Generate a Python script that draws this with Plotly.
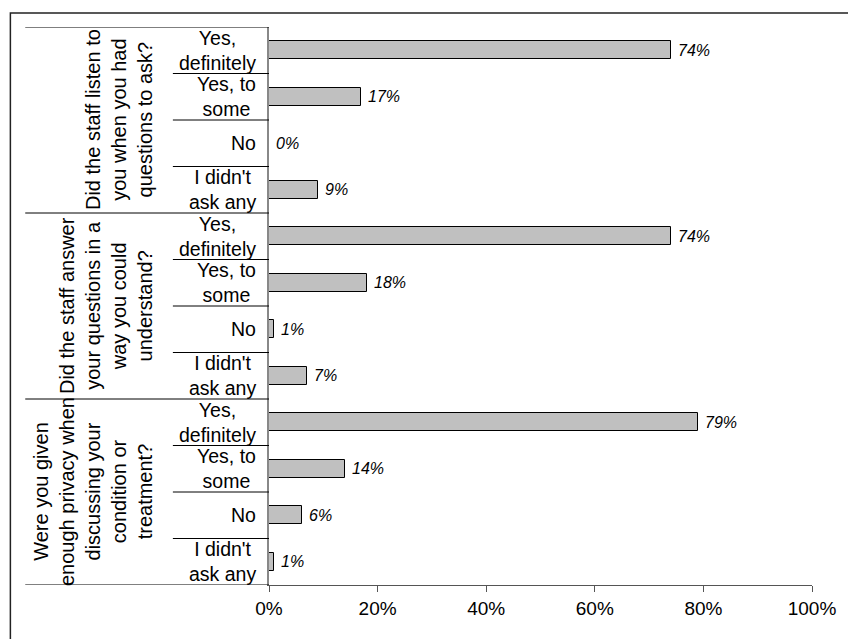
import plotly.graph_objects as go

# ---- data ----
questions = [
    "Did the staff listen to<br>you when you had<br>questions to ask?",
    "Did the staff answer<br>your questions in a<br>way you could<br>understand?",
    "Were you given<br>enough privacy when<br>discussing your<br>condition or<br>treatment?",
]
answers = ["Yes,<br>definitely", "Yes, to<br>some", "No", "I didn't<br>ask any"]
values_listen = [74, 17, 0, 9]
values_answer = [74, 18, 1, 7]
values_privacy = [79, 14, 6, 1]
x_ticks = [0, 20, 40, 60, 80, 100]
x_tick_labels = ["0%", "20%", "40%", "60%", "80%", "100%"]

all_values = [values_listen, values_answer, values_privacy]

W, H = 848, 639
L, R, T, B = 269, 31, 27, 54
pw = W - L - R
ph = H - T - B

def px_to_paper_x(px):
    return (px - L) / pw

def px_to_paper_y(py):
    return 1 - (py - T) / ph

FONT = "Liberation Sans, Arial, sans-serif"

vals = []
ypos = []
for g, vlist in enumerate(all_values):
    for i, v in enumerate(vlist):
        vals.append(v)
        ypos.append(g * len(answers) + i)

n_rows = len(ypos)

fig = go.Figure()
fig.add_trace(go.Bar(
    x=vals, y=ypos, orientation="h", width=0.39,
    marker=dict(color="#c0c0c0", line=dict(color="black", width=1)),
    hoverinfo="skip", showlegend=False,
))

annotations = []
# value labels
for v, y in zip(vals, ypos):
    annotations.append(dict(
        x=v, y=y, xref="x", yref="y", text=f"<i>{v}%</i>",
        showarrow=False, xanchor="left", yanchor="middle", xshift=5,
        font=dict(family=FONT, size=16, color="black"),
    ))
# answer labels
for g in range(len(questions)):
    for i, a in enumerate(answers):
        annotations.append(dict(
            x=px_to_paper_x(258), y=g * len(answers) + i, xref="paper", yref="y",
            text=a, showarrow=False, xanchor="right", yanchor="middle",
            align="center",
            font=dict(family=FONT, size=19.5, color="black"),
        ))
# question labels
for g, q in enumerate(questions):
    annotations.append(dict(
        x=px_to_paper_x(157), y=g * len(answers) + (len(answers) - 1) / 2,
        xref="paper", yref="y", text=q, showarrow=False, textangle=-90,
        xanchor="right", yanchor="middle", align="center",
        font=dict(family=FONT, size=20, color="black"),
    ))

shapes = []
for k in range(n_rows + 1):
    long_line = (k % len(answers) == 0)
    x0 = px_to_paper_x(23) if long_line else px_to_paper_x(172)
    shapes.append(dict(
        type="line", xref="paper", yref="y", x0=x0, x1=0,
        y0=k - 0.5, y1=k - 0.5, line=dict(color="black", width=1),
    ))
# outer border
shapes.append(dict(
    type="rect", xref="paper", yref="paper",
    x0=px_to_paper_x(8), x1=px_to_paper_x(870),
    y0=px_to_paper_y(660), y1=px_to_paper_y(13),
    line=dict(color="#222222", width=1.5), fillcolor="rgba(0,0,0,0)",
))

fig.update_layout(
    width=W, height=H,
    margin=dict(l=L, r=R, t=T, b=B),
    paper_bgcolor="white", plot_bgcolor="white",
    font=dict(family=FONT, size=19, color="black"),
    annotations=annotations, shapes=shapes,
    showlegend=False,
    xaxis=dict(
        range=[0, 100], tickvals=x_ticks, ticktext=x_tick_labels,
        showgrid=False, zeroline=False, showline=True, linecolor="#555555",
        linewidth=1, ticks="outside", ticklen=6, tickcolor="#555555",
        tickfont=dict(family=FONT, size=19, color="black"), fixedrange=True,
    ),
    yaxis=dict(
        range=[n_rows - 0.5, -0.5], showticklabels=False, showgrid=False,
        zeroline=False, showline=True, linecolor="#888888", linewidth=1.5,
        ticks="", fixedrange=True,
    ),
    bargap=0,
)

fig.write_html("out.html")
